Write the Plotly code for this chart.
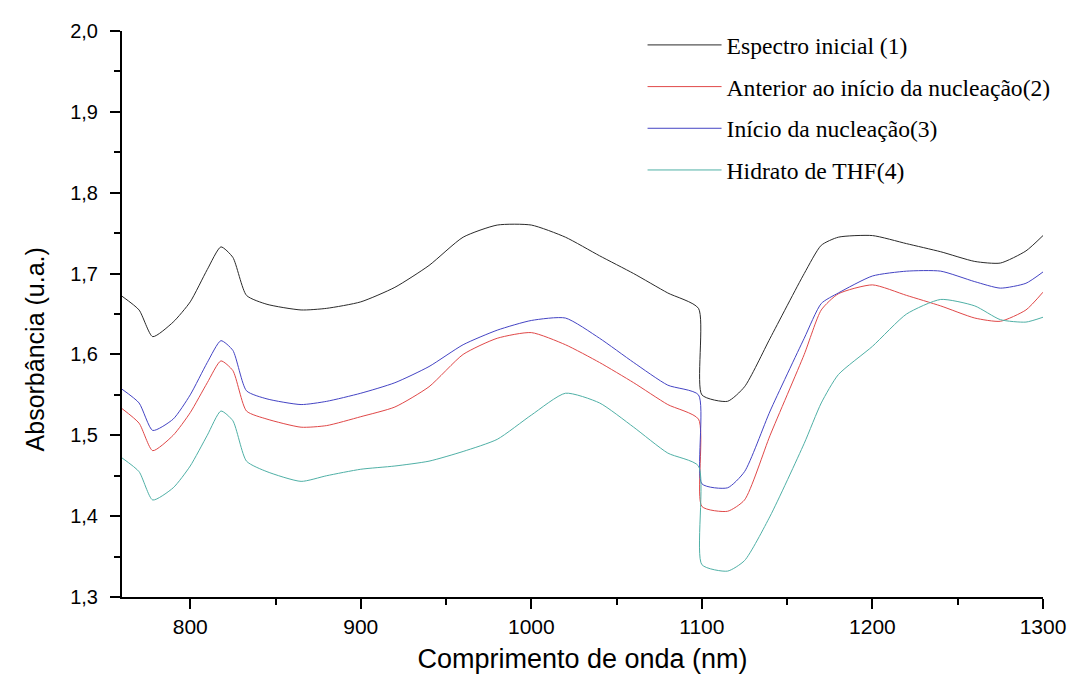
import plotly.graph_objects as go

wavelength = [760, 770, 778, 790, 800, 810, 818, 825, 833, 845, 865, 880, 900, 920, 940, 960, 980,
              1000, 1020, 1040, 1060, 1080, 1098, 1100, 1115, 1125, 1140, 1160, 1170, 1180, 1200,
              1220, 1240, 1260, 1275, 1290, 1300]

espectro_inicial = [1.672, 1.655, 1.622, 1.640, 1.665, 1.705, 1.733, 1.720, 1.673, 1.662, 1.655, 1.657,
                    1.665, 1.683, 1.710, 1.745, 1.760, 1.760, 1.745, 1.722, 1.700, 1.676, 1.657,
                    1.550, 1.542, 1.560, 1.620, 1.700, 1.735, 1.745, 1.747, 1.737, 1.727, 1.715,
                    1.713, 1.728, 1.747]

anterior = [1.533, 1.515, 1.481, 1.500, 1.528, 1.565, 1.592, 1.580, 1.530, 1.520, 1.510, 1.512,
            1.523, 1.535, 1.560, 1.600, 1.620, 1.627, 1.612, 1.590, 1.565, 1.538, 1.520,
            1.412, 1.406, 1.420, 1.500, 1.600, 1.655, 1.675, 1.686, 1.673, 1.660, 1.645,
            1.641, 1.655, 1.677]

inicio = [1.557, 1.540, 1.506, 1.520, 1.550, 1.590, 1.617, 1.605, 1.555, 1.545, 1.538, 1.542,
          1.552, 1.565, 1.585, 1.612, 1.630, 1.642, 1.645, 1.620, 1.590, 1.562, 1.550,
          1.440, 1.435, 1.455, 1.530, 1.620, 1.663, 1.676, 1.697, 1.703, 1.703, 1.690,
          1.682, 1.688, 1.702]

hidrato = [1.472, 1.455, 1.420, 1.435, 1.462, 1.500, 1.530, 1.518, 1.468, 1.455, 1.443, 1.450,
           1.458, 1.462, 1.468, 1.480, 1.495, 1.525, 1.552, 1.540, 1.510, 1.478, 1.462,
           1.340, 1.332, 1.345, 1.400, 1.490, 1.540, 1.575, 1.610, 1.650, 1.668, 1.660,
           1.643, 1.640, 1.646]

names = ["Espectro inicial (1)", "Anterior ao início da nucleação(2)",
         "Início da nucleação(3)", "Hidrato de THF(4)"]
series = [espectro_inicial, anterior, inicio, hidrato]
colors = ["#2a2a2a", "#e04848", "#4444c4", "#4fb0a6"]

fig = go.Figure()
for i, (n, s, c) in enumerate(zip(names, series, colors)):
    fig.add_trace(go.Scatter(x=wavelength, y=s, mode="lines", name=n, legendgroup=str(i),
                             line=dict(color=c, width=1, shape="spline", smoothing=0.6)))

axis_common = dict(showline=True, linecolor="black", linewidth=2, ticks="outside",
                   ticklen=10, tickwidth=2, tickcolor="black", showgrid=False, zeroline=False,
                   mirror=False)

fig.update_layout(
    width=1070, height=675,
    paper_bgcolor="white", plot_bgcolor="white",
    margin=dict(l=114, r=27, t=17, b=86),
    separators=",.",
    showlegend=True,
    legend=dict(x=0.5652, y=1.014, xanchor="left", yanchor="top", bgcolor="rgba(0,0,0,0)",
                font=dict(family="Liberation Serif, Times New Roman", size=23.6, color="black"),
                itemwidth=74, tracegroupgap=8),
    xaxis=dict(range=[760, 1300], dtick=100, tick0=800, tickformat="d",
               tickfont=dict(family="Liberation Sans, Arial", size=21, color="black"),
               minor=dict(dtick=50, tick0=750, ticks="outside", ticklen=6, tickwidth=2, tickcolor="black"),
               title=dict(text="Comprimento de onda (nm)", standoff=12,
                          font=dict(family="Liberation Sans, Arial", size=27, color="black")),
               **axis_common),
    yaxis=dict(range=[1.3, 2.0], dtick=0.1, tickformat=".1f", ticklabelstandoff=8,
               tickfont=dict(family="Liberation Sans, Arial", size=20, color="black"),
               minor=dict(dtick=0.05, ticks="outside", ticklen=6, tickwidth=2, tickcolor="black"),
               **axis_common),
    annotations=[dict(text="Absorbância (u.a.)", textangle=-90, xref="paper", yref="paper",
                      x=-0.0947, y=0.437, xanchor="center", yanchor="middle", showarrow=False,
                      font=dict(family="Liberation Sans, Arial", size=25, color="black"))],
)

fig.write_html("out.html")
